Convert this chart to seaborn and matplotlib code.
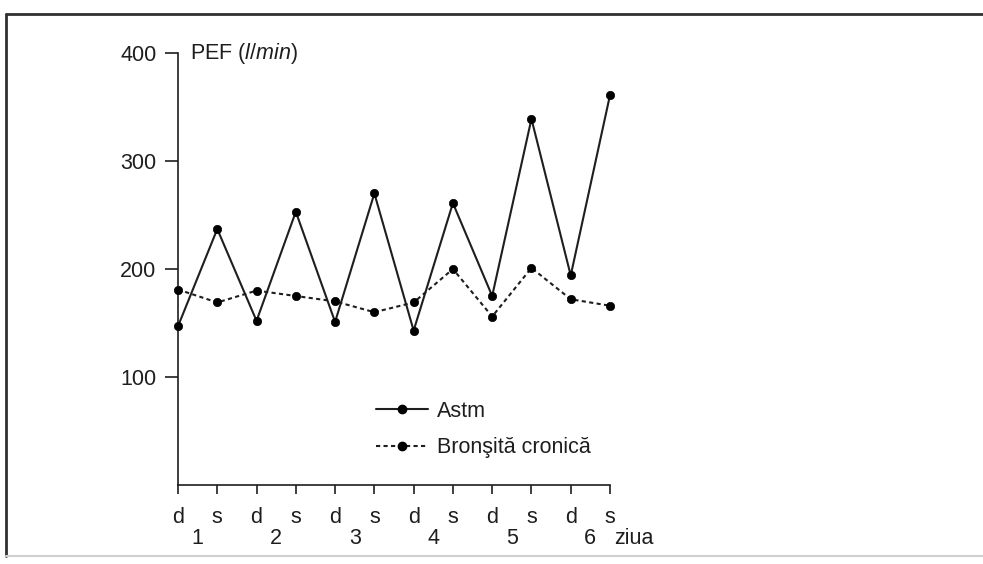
"""PEF morning/evening readings: asthma vs chronic bronchitis."""
import numpy as np
import pandas as pd
import matplotlib
matplotlib.use("Agg")
import matplotlib.pyplot as plt
from matplotlib.lines import Line2D
import seaborn as sns

# data
moments = ["d", "s"] * 6
zile = ["1", "2", "3", "4", "5", "6"]
astm = [147, 237, 152, 253, 151, 270, 143, 261, 175, 339, 194, 361]
bronsita = [181, 169, 180, 175, 170, 160, 169, 200, 156, 201, 172, 166]
serii = ["Astm", "Bronşită cronică"]
yticks = [100, 200, 300, 400]

sns.set_theme(style="white")
plt.rcParams["font.family"] = ["Liberation Sans", "DejaVu Sans"]
plt.rcParams["mathtext.fontset"] = "custom"
plt.rcParams["mathtext.rm"] = "Liberation Sans"
plt.rcParams["mathtext.it"] = "Liberation Sans:italic"

pos = np.arange(len(moments))
df = pd.DataFrame({
    "pos": np.concatenate([pos, pos]),
    "PEF": astm + bronsita,
    "serie": [serii[0]] * len(pos) + [serii[1]] * len(pos),
})

ink = "#1e1e1e"
fs = 15.5
fig = plt.figure(figsize=(9.83, 5.64), dpi=100)
ax = fig.add_axes([178 / 983, 1 - 485 / 564, (610 - 178) / 983, (485 - 53) / 564])

sns.lineplot(data=df, x="pos", y="PEF", hue="serie", style="serie",
             palette={serii[0]: ink, serii[1]: ink},
             dashes={serii[0]: "", serii[1]: (2, 1.6)},
             markers={serii[0]: "o", serii[1]: "o"},
             markersize=6, linewidth=1.5, legend=False, ax=ax)
for ln in ax.lines:
    ln.set_clip_on(False)
    ln.set_markeredgecolor("black")
    ln.set_markerfacecolor("black")
    ln.set_markeredgewidth(0.5)
    ln.set_zorder(5)

ax.set_xlim(0, len(moments) - 1)
ax.set_ylim(0, 400)
sns.despine(ax=ax)
for side in ["left", "bottom"]:
    ax.spines[side].set_linewidth(1.2)
    ax.spines[side].set_color(ink)

ax.set_yticks(yticks)
ax.set_yticklabels([str(v) for v in yticks])
ax.set_xticks(pos)
ax.set_xticklabels(moments)
ax.tick_params(axis="y", direction="out", length=9.5, width=1.2, pad=6,
               labelsize=fs, color=ink, labelcolor=ink, left=True)
ax.tick_params(axis="x", direction="out", length=6.5, width=1.2, pad=9,
               labelsize=fs, color=ink, labelcolor=ink, bottom=True)
ax.set_xlabel("")
ax.set_ylabel("")

# day numbers under each d/s pair
tr = ax.get_xaxis_transform()
for i, z in enumerate(zile):
    ax.text(2 * i + 0.5, -0.125, z, transform=tr, ha="center", va="center",
            fontsize=fs, color=ink)
ax.text(11.6, -0.125, "ziua", transform=tr, ha="center", va="center",
        fontsize=fs, color=ink)

# y axis title next to top tick
ax.text(190 / 983, 1 - 53 / 564, r"PEF ($\mathit{l/min}$)", transform=fig.transFigure,
        ha="left", va="center", fontsize=fs, color=ink)

handles = [
    Line2D([], [], color=ink, lw=1.5, marker="o", ms=6, mfc="black", mec="black"),
    Line2D([], [], color=ink, lw=1.5, ls=(0, (2, 1.6)), marker="o", ms=6,
           mfc="black", mec="black"),
]
ax.legend(handles, serii, loc="upper left", bbox_to_anchor=(376 / 983, 1 - 401 / 564),
          bbox_transform=fig.transFigure, frameon=False, fontsize=fs,
          handlelength=2.4, handletextpad=0.45, borderpad=0, borderaxespad=0,
          labelspacing=0.72, labelcolor=ink)

# frame around the figure
frame = dict(color="#303030", lw=2, transform=fig.transFigure)
fig.add_artist(Line2D([6 / 983, 1], [1 - 14 / 564, 1 - 14 / 564], **frame))
fig.add_artist(Line2D([6 / 983, 6 / 983], [1 - 14 / 564, 1 - 556 / 564], **frame))
fig.add_artist(Line2D([6 / 983, 1], [1 - 556 / 564, 1 - 556 / 564],
                      color="#d0d0d0", lw=1.5, transform=fig.transFigure))

fig.savefig("out.png", dpi=100)
